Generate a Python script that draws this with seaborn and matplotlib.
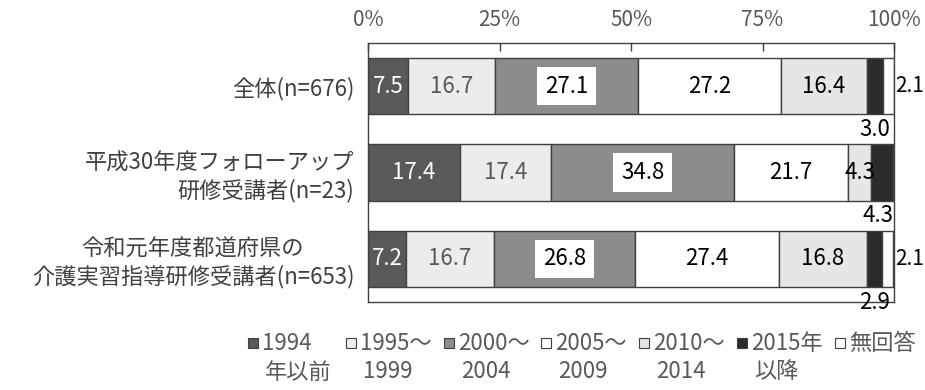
import numpy as np
import pandas as pd
import matplotlib
matplotlib.use("Agg")
import matplotlib.pyplot as plt
import seaborn as sns
from matplotlib.patches import Rectangle

# data (%)
groups = ["全体(n=676)",
          "平成30年度フォローアップ\n研修受講者(n=23)",
          "令和元年度都道府県の\n介護実習指導研修受講者(n=653)"]
periods = ["1994\n年以前", "1995～\n1999", "2000～\n2004", "2005～\n2009",
           "2010～\n2014", "2015年\n以降", "無回答"]
y1994 = [7.5, 17.4, 7.2]
y1995 = [16.7, 17.4, 16.7]
y2000 = [27.1, 34.8, 26.8]
y2005 = [27.2, 21.7, 27.4]
y2010 = [16.4, 4.3, 16.8]
y2015 = [3.0, 4.3, 2.9]
no_answer = [2.1, 0.0, 2.1]
series = [y1994, y1995, y2000, y2005, y2010, y2015, no_answer]

fills = ["#595959", "#ececec", "#8c8c8c", "#ffffff", "#e6e6e6", "#2b2b2b", "#ffffff"]
text_colors = ["white", "#595959", "black", "black", "black", "black", "black"]
edge = "#404040"

sns.set_theme(style="white")
plt.rcParams["font.family"] = ["Noto Sans CJK JP", "DejaVu Sans"]

fig, ax = plt.subplots(figsize=(9.25, 3.9), dpi=100)
fig.subplots_adjust(left=0.398, right=0.9665, top=0.8897, bottom=0.2256)

# stacked horizontal bars
left = np.zeros(len(groups))
for i, vals in enumerate(series):
    df = pd.DataFrame({"group": groups, "value": vals})
    sns.barplot(data=df, x="value", y="group", orient="h", left=left,
                color=fills[i], saturation=1, edgecolor=edge, linewidth=1,
                width=0.65, ax=ax)
    left = left + np.array(vals)

ax.set_xlim(0, 100)
ax.set_ylim(2.5, -0.5)

# value labels
for i, cont in enumerate(ax.containers):
    for j, rect in enumerate(cont):
        v = series[i][j]
        if v == 0:
            continue
        xc = rect.get_x() + rect.get_width() / 2
        yc = rect.get_y() + rect.get_height() / 2
        txt = f"{v:.1f}"
        if i == 6:
            # no answer: right of the frame
            ax.text(100.3, yc, txt, ha="left", va="center", fontsize=15,
                    color="black", clip_on=False)
        elif i == 5:
            # 2015- : under the bar
            ax.text(min(xc, 97.0), j + 0.5, txt, ha="center", va="center",
                    fontsize=16, color="black", clip_on=False)
        elif i == 2:
            ax.text(xc, yc, txt, ha="center", va="center", fontsize=16,
                    color=text_colors[i],
                    bbox=dict(boxstyle="square,pad=0.35", fc="white", ec="none"))
        else:
            ax.text(xc, yc, txt, ha="center", va="center", fontsize=16,
                    color=text_colors[i])

# axes styling
ax.xaxis.tick_top()
ax.set_xticks([0, 25, 50, 75, 100])
ax.set_xticklabels(["0%", "25%", "50%", "75%", "100%"])
ax.tick_params(axis="x", direction="in", length=6, width=1, color=edge,
               pad=9, labelsize=15, labelcolor="#595959", top=True, bottom=False)
ax.tick_params(axis="y", length=0, pad=10, labelsize=16, labelcolor="#404040")
ax.get_yticklabels()[2].set_multialignment("center")
ax.set_xlabel("")
ax.set_ylabel("")
for s in ax.spines.values():
    s.set_visible(True)
    s.set_color(edge)
    s.set_linewidth(1)

# legend below the plot
W, H = 925, 390
for k, lab in enumerate(periods):
    x = 248 + k * 97.8
    fig.add_artist(Rectangle((x / W, (H - 348) / H), 10 / W, 10 / H,
                             transform=fig.transFigure, fc=fills[k], ec=edge, lw=0.8))
    lines = lab.split("\n")
    fig.text((x + 14) / W, (H - 343) / H, lines[0], ha="left", va="center",
             fontsize=16, color="#595959")
    if len(lines) > 1:
        fig.text((x + 17) / W, (H - 372) / H, lines[1], ha="left", va="center",
                 fontsize=16, color="#595959")

fig.savefig("out.png", dpi=100)
